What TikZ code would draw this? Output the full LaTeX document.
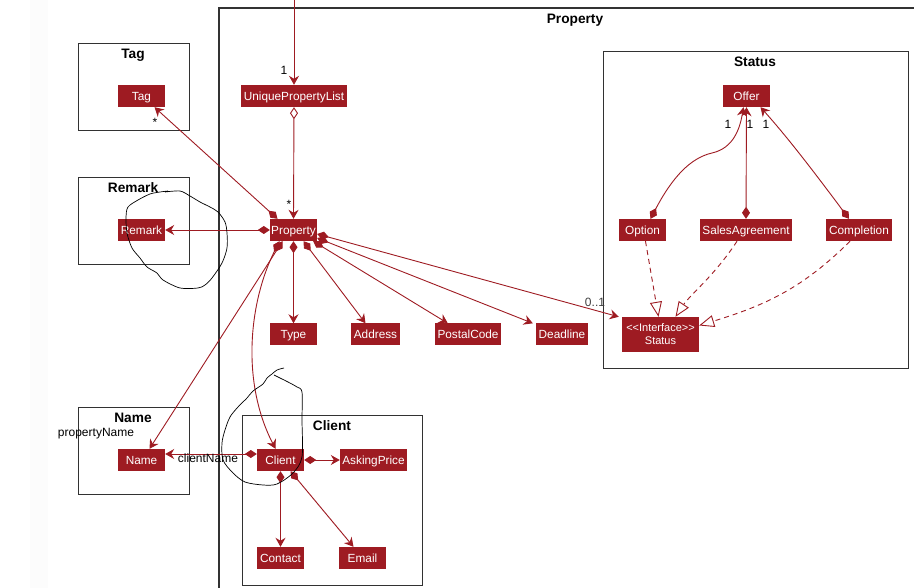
\documentclass[tikz,border=0pt]{standalone}
\usepackage{fontspec}
\setmainfont{Liberation Sans}
\usetikzlibrary{arrows.meta}
\definecolor{pr}{RGB}{158,27,34}
\definecolor{fr}{RGB}{50,50,50}
\begin{document}
\begin{tikzpicture}[x=1pt,y=-1pt,
  cls/.style={fill=pr,text=white,font=\fontsize{11.8}{13}\selectfont,minimum height=22pt,inner sep=0pt,text height=9pt,text depth=0.5pt,minimum width=#1},
  pkg/.style={draw=fr,line width=1.3pt,inner sep=0pt,anchor=north west},
  ttl/.style={font=\bfseries\fontsize{13.7}{15}\selectfont,inner sep=0pt},
  lbl/.style={font=\fontsize{12}{13}\selectfont,inner sep=0pt},
  comp/.style={draw=pr,line width=0.9pt,{Diamond[length=12pt,width=8pt]}-{Stealth[length=9pt,width=10pt,inset=3pt]}},
  assoc/.style={draw=pr,line width=0.9pt,-{Stealth[length=9pt,width=10pt,inset=3pt]}},
  aggr/.style={draw=pr,line width=0.9pt,{Diamond[open,fill=white,length=12pt,width=8pt]}-{Stealth[length=9pt,width=10pt,inset=3pt]}},
  realz/.style={draw=pr,line width=0.9pt,dash pattern=on 5pt off 4pt,-{Triangle[open,fill=white,length=15pt,width=12pt]}},
  scrib/.style={draw=black,line width=0.7pt,line join=round}
]
\useasboundingbox (0,0) rectangle (914,588);
\fill[gray!2] (30,0) rectangle (48,588);

% packages
\draw[pkg] (914,8) -- (219,8) -- (219,588);
\node[ttl] (tprop) at (575,20) {Property};
\node[pkg,minimum width=111pt,minimum height=87pt] (ptag) at (78,43) {};
\node[ttl] (ttag) at (133,55) {Tag};
\node[pkg,minimum width=111pt,minimum height=87pt] (prem) at (78,177) {};
\node[ttl] (trem) at (133,188) {Remark};
\node[pkg,minimum width=111pt,minimum height=87pt] (pname) at (78,407) {};
\node[ttl] (tname) at (133,418) {Name};
\node[pkg,minimum width=305pt,minimum height=317pt] (pstat) at (603,51) {};
\node[ttl] (tstat) at (755,62) {Status};
\node[pkg,minimum width=180pt,minimum height=170pt] (pcli) at (242,415) {};
\node[ttl] (tcli) at (332,426) {Client};

% classes
\node[cls=47pt] (tag) at (141.5,96) {Tag};
\node[cls=47pt] (remark) at (141.5,230) {Remark};
\node[cls=47pt] (name) at (141.5,460) {Name};
\node[cls=106pt] (upl) at (294,96) {UniquePropertyList};
\node[cls=47pt] (prop) at (293.5,230) {Property};
\node[cls=47pt] (type) at (293.5,334.5) {Type};
\node[cls=49pt] (addr) at (375.5,334.5) {Address};
\node[cls=66pt] (postal) at (468,334.5) {PostalCode};
\node[cls=52pt] (dead) at (562,334.5) {Deadline};
\node[cls=47pt] (offer) at (746.5,96) {Offer};
\node[cls=47pt] (opt) at (642.5,230) {Option};
\node[cls=92pt] (sa) at (746,230) {SalesAgreement};
\node[cls=66pt] (compl) at (859,230) {Completion};
\node[cls=77pt,minimum height=35pt,align=center,text height=,text depth=,font=\fontsize{11}{13}\selectfont] (stat) at (660.5,334.5) {<\kern0pt<Interface>\kern0pt>\\Status};
\node[cls=47pt] (client) at (280.5,460) {Client};
\node[cls=67pt] (ask) at (373.5,460) {AskingPrice};
\node[cls=47pt] (contact) at (280.5,558) {Contact};
\node[cls=47pt] (email) at (362.5,558) {Email};

% connectors
\coordinate (top) at (294,-2);
\draw[assoc] (top) -- (upl.north);
\node[lbl] (l1) at (284,70) {1};
\draw[aggr] (upl.south) -- (prop.north);
\node[lbl] (l2) at (289,204) {*};
\draw[comp] ([xshift=-16pt]prop.north) -- ([xshift=13pt]tag.south);
\node[lbl] (l3) at (155,122) {*};
\draw[comp] (prop.west) -- (remark.east);
\draw[comp] (prop.south) -- (type.north);
\draw[comp] ([xshift=10pt]prop.south) -- ([xshift=-10pt]addr.north);
\draw[comp] ([xshift=-4pt]prop.south east) -- ([xshift=13pt]postal.north west);
\draw[comp] ([yshift=-8pt]prop.east) -- ([xshift=-3pt]dead.north west);
\draw[comp] ([yshift=-4pt]prop.east) -- ([xshift=-3pt]stat.north west);
\node[lbl,text=black!75] (l4) at (595,302) {0..1};
\draw[comp] ([xshift=-11pt]prop.south) -- ([xshift=8pt]name.north);
\node[lbl] (l5) at (96,434) {propertyName};
\draw[comp] ([xshift=-14pt]prop.south) .. controls (250,300) and (240,380) .. ([xshift=-5pt]client.north);

\draw[comp] ([yshift=6pt]client.west) -- ([yshift=6pt]name.east);
\node[lbl] (l6) at (208,458) {clientName};
\draw[comp] (client.east) -- (ask.west);
\draw[comp] (client.south) -- (contact.north);
\draw[comp] ([xshift=10pt]client.south) -- ([xshift=-9pt]email.north);

\draw[comp] ([xshift=8pt]opt.north) .. controls (672,178) and (690,158) .. (712,153) .. controls (734,148) and (740,128) .. ([xshift=-3pt]offer.south);
\draw[comp] (sa.north) -- (offer.south);
\draw[comp] ([xshift=-10pt]compl.north) .. controls (820,180) and (790,140) .. ([xshift=14pt]offer.south);
\node[lbl] (l7) at (728,124) {1};
\node[lbl] (l8) at (750,124) {1};
\node[lbl] (l9) at (766,124) {1};

\draw[realz] ([xshift=3pt]opt.south) -- ([xshift=-2pt]stat.north);
\draw[realz] ([xshift=-9pt]sa.south) .. controls (715,275) and (690,295) .. ([xshift=15pt]stat.north);
\draw[realz] ([xshift=-9pt]compl.south) to[out=-135,in=17] ([yshift=9pt]stat.east);

% hand-drawn scribbles
\draw[scrib] plot[smooth] coordinates {(165,192) (180,191) (190,196) (200,202) (210,207) (218,212) (225,222) (227,233) (227,248) (222,263) (212,278) (205,285) (198,288) (180,288) (163,280) (157,273) (147,267) (140,258) (132,248) (127,233) (126,217) (128,207) (138,200) (150,194) (160,192) (168,191)};
\draw[scrib] plot[smooth] coordinates {(284,368) (277,370) (272,374) (267,378) (263,384) (253,391) (247,398) (238,407) (230,417) (225,430) (222,443) (223,460) (233,473) (245,482) (263,485) (277,484) (293,473) (302,457) (302,420) (302,392) (297,387) (288,382) (280,378) (274,375)};
\end{tikzpicture}
\end{document}
